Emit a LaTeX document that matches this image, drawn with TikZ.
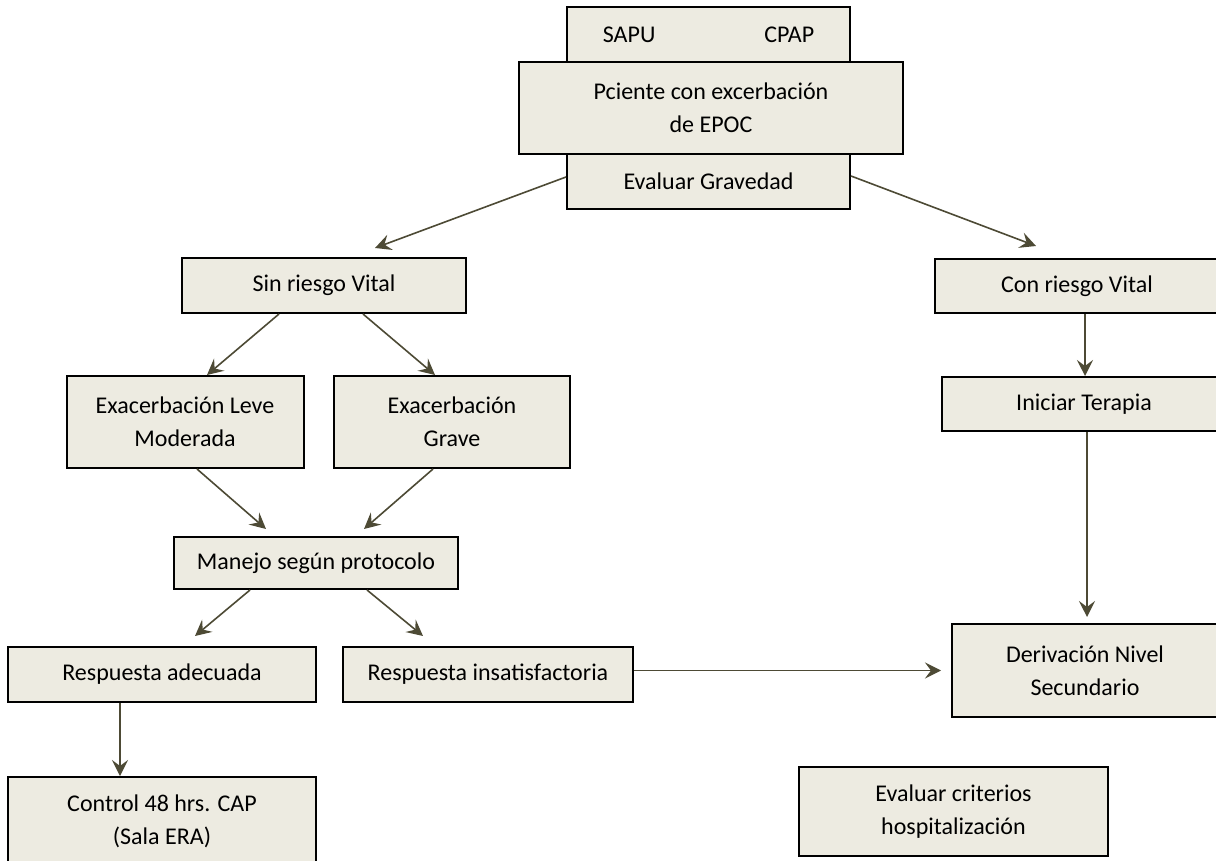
\documentclass[tikz,border=0pt]{standalone}
\usepackage{fontspec}
\setmainfont{Carlito}
\usepackage{tikz}
\usetikzlibrary{calc,positioning,arrows.meta}
\definecolor{boxfill}{HTML}{EDEBE1}
\definecolor{arrowcol}{HTML}{4D4A35}
\tikzset{
	caja/.style={draw=black, fill=boxfill, line width=2pt, align=center, inner sep=0pt,
		font=\fontsize{24}{33}\selectfont},
	flecha/.style={draw=arrowcol, line width=1.6pt,
		-{Stealth[length=16pt,width=16pt,inset=6pt]}}
}

\begin{document}
\begin{tikzpicture}[x=1pt,y=-1pt]
			\clip (0,0) rectangle (1216,861);
			\fill[white] (0,0) rectangle (1216,861);
			% cabecera
			\node[caja, minimum width=283pt, minimum height=55pt] (sapu) at (708.5,34.5) {SAPU\hspace{109pt}CPAP};
			\node[caja, minimum width=283pt, minimum height=56pt] (grav) at (708.5,181) {Evaluar Gravedad};
			\node[caja, minimum width=384pt, minimum height=92pt] (pac) at (711,108) {Pciente con excerbación\\de EPOC};
			% rama izquierda
			\node[caja, minimum width=284pt, minimum height=55pt] (sin) at (324,285.5) {Sin riesgo Vital};
			\node[caja, minimum width=237pt, minimum height=92pt] (leve) at (185,422) {Exacerbación Leve\\Moderada};
			\node[caja, minimum width=236pt, minimum height=92pt] (grave) at (452,422) {Exacerbación\\Grave};
			\node[caja, minimum width=284pt, minimum height=52pt] (manejo) at (316,563) {Manejo según protocolo};
			\node[caja, minimum width=308pt, minimum height=55pt] (rad) at (162,674.5) {Respuesta adecuada};
			\node[caja, minimum width=290pt, minimum height=55pt] (rins) at (488,674.5) {Respuesta insatisfactoria};
			\node[caja, minimum width=308pt, minimum height=88pt] (ctrl) at (162,821) {Control 48 hrs. CAP\\(Sala ERA)};
			% rama derecha
			\node[caja, minimum width=284pt, minimum height=54pt] (con) at (1077,286) {Con riesgo Vital};
			\node[caja, minimum width=284pt, minimum height=54pt] (ini) at (1084,404) {Iniciar Terapia};
			\node[caja, minimum width=266pt, minimum height=93pt] (deriv) at (1085,670.5) {Derivación Nivel\\Secundario};
			\node[caja, minimum width=309pt, minimum height=89pt] (crit) at (953.5,811.5) {Evaluar criterios\\hospitalización};
			% flechas
			\draw[flecha] ($(grav.west)+(0,-4)$) -- ($(sin.north)+(51,-9)$);
			\draw[flecha] ($(grav.east)+(0,-5)$) -- ($(con.north)+(-41,-12)$);
			\draw[flecha] ($(sin.south)+(-45,0)$) -- ($(leve.north)+(22,0)$);
			\draw[flecha] ($(sin.south)+(39,0)$) -- ($(grave.north)+(-17,0)$);
			\draw[flecha] ($(leve.south)+(12,0)$) -- ($(manejo.north)+(-50,-7)$);
			\draw[flecha] ($(grave.south)+(-19,0)$) -- ($(manejo.north)+(48,-7)$);
			\draw[flecha] ($(manejo.south)+(-66,0)$) -- ($(rad.north)+(33,-10)$);
			\draw[flecha] ($(manejo.south)+(51,0)$) -- ($(rins.north)+(-65,-10)$);
			\draw[flecha] ($(rad.south)+(-42,0)$) -- ($(ctrl.north)+(-42,0)$);
			\draw[flecha] ($(con.south)+(8,0)$) -- ($(ini.north)+(1,0)$);
			\draw[flecha] ($(ini.south)+(3,0)$) -- ($(deriv.north)+(2,-6)$);
			\draw[flecha] (rins.east |- deriv.west) -- ($(deriv.west)+(-10,0)$);
		\end{tikzpicture}
\end{document}
